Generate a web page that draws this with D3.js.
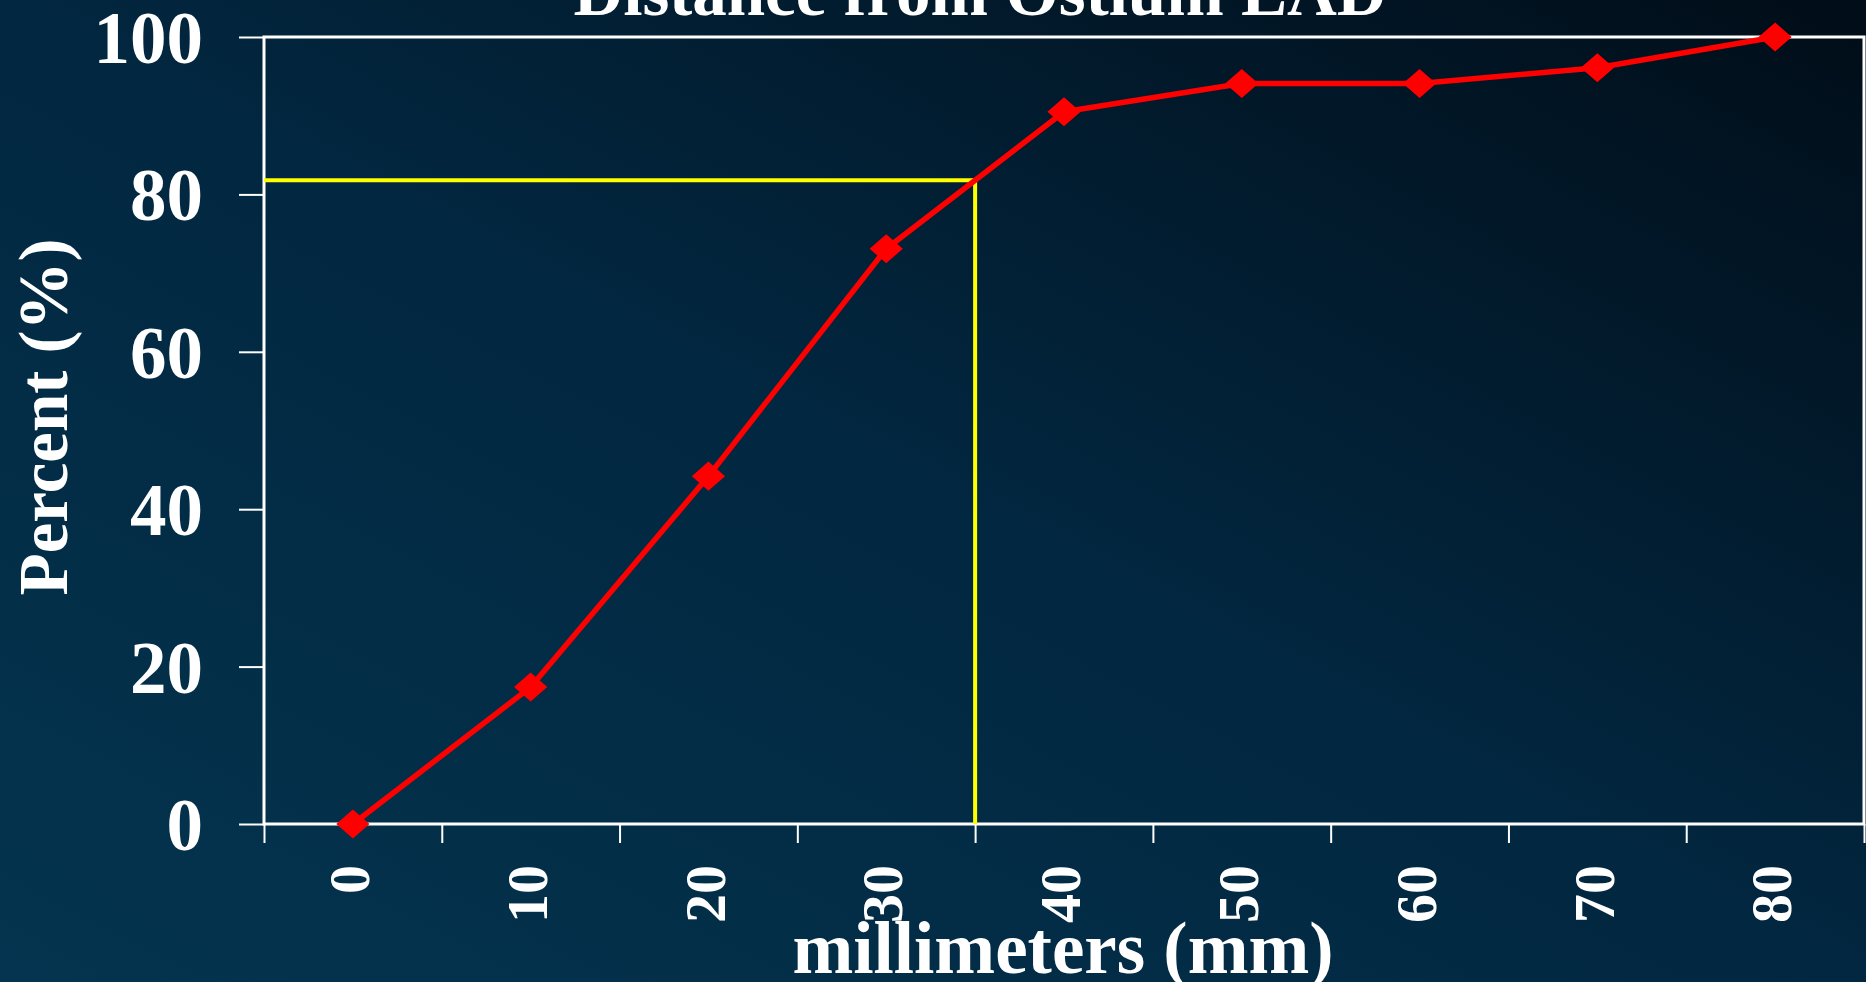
<!DOCTYPE html>
<html>
<head>
<meta charset="utf-8">
<script src="https://cdn.jsdelivr.net/npm/d3@7"></script>
<style>
  html, body { margin: 0; padding: 0; background: #021a2e; }
  svg { display: block; }
  text { font-family: "Liberation Serif", "Times New Roman", serif; font-weight: bold; fill: #ffffff; }
</style>
</head>
<body>
<svg id="chart" width="1866" height="982"></svg>
<script>
// Cumulative share of lesions by distance from the LAD ostium
const distances = [0, 10, 20, 30, 40, 50, 60, 70, 80];          // mm
const percents  = [0, 17.4, 44.2, 73.1, 90.5, 94.1, 94.1, 96.1, 100];
const yTicks    = [0, 20, 40, 60, 80, 100];
const refDistance = 35;    // mm, marked reference
const refPercent  = 81.8;  // % reached at the reference distance

const titleText = "Distance from Ostium LAD";
const xTitle = "millimeters (mm)";
const yTitle = "Percent (%)";

const W = 1866, H = 982;
const plot = { left: 264, right: 1864, top: 37, bottom: 824 };

const svg = d3.select("#chart");

// Diagonal background wash, lightest bottom-left, darkest top-right
const defs = svg.append("defs");
const grad = defs.append("linearGradient")
  .attr("id", "bg")
  .attr("x1", 0).attr("y1", 1).attr("x2", 1).attr("y2", 0);
grad.append("stop").attr("offset", 0).attr("stop-color", "#04344f");
grad.append("stop").attr("offset", 0.5).attr("stop-color", "#022740");
grad.append("stop").attr("offset", 1).attr("stop-color", "#010d18");
svg.append("rect").attr("width", W).attr("height", H).attr("fill", "url(#bg)");

// Scales: each distance sits in the middle of a 10 mm slot
const x = d3.scaleLinear().domain([-5, 85]).range([plot.left, plot.right]);
const y = d3.scaleLinear().domain([0, 100]).range([plot.bottom, plot.top]);

// Plot frame
svg.append("rect")
  .attr("x", plot.left).attr("y", plot.top)
  .attr("width", plot.right - plot.left).attr("height", plot.bottom - plot.top)
  .attr("fill", "none").attr("stroke", "#ffffff").attr("stroke-width", 3);

// Y axis
const yAxis = svg.append("g")
  .attr("transform", `translate(${plot.left},0)`)
  .call(d3.axisLeft(y).tickValues(yTicks).tickSize(25).tickPadding(36));
yAxis.select(".domain").remove();
yAxis.selectAll(".tick line").attr("stroke", "#ffffff").attr("stroke-width", 2);
yAxis.selectAll(".tick text")
  .attr("fill", "#ffffff")
  .style("font-size", "73px")
  .attr("dy", "0.35em");

// X axis: tick marks on slot boundaries, labels centred in slots
const boundaries = d3.range(-5, 86, 10);
const xAxis = svg.append("g")
  .attr("transform", `translate(0,${plot.bottom})`)
  .call(d3.axisBottom(x).tickValues(boundaries).tickSize(19).tickFormat(""));
xAxis.select(".domain").remove();
xAxis.selectAll(".tick line").attr("stroke", "#ffffff").attr("stroke-width", 2);

svg.append("g").selectAll("text")
  .data(distances)
  .join("text")
  .attr("transform", d => `translate(${x(d)},865) rotate(-90)`)
  .attr("text-anchor", "end")
  .attr("dy", "0.28em")
  .style("font-size", "58px")
  .text(d => d);

// Reference lines
svg.append("path")
  .attr("d", d3.line()([
    [x(-5), y(refPercent)],
    [x(refDistance), y(refPercent)],
    [x(refDistance), y(0)]
  ]))
  .attr("fill", "none")
  .attr("stroke", "#ffff00")
  .attr("stroke-width", 4);

// Data line
const pts = distances.map((d, i) => [x(d), y(percents[i])]);
svg.append("path")
  .attr("d", d3.line()(pts))
  .attr("fill", "none")
  .attr("stroke", "#ff0000")
  .attr("stroke-width", 5.5)
  .attr("stroke-linejoin", "round");

// Diamond markers (slightly wider than tall)
const rhombus = {
  draw(ctx, size) {
    const w = Math.sqrt(size) * 0.57, h = w * 0.875;
    ctx.moveTo(0, -h); ctx.lineTo(w, 0); ctx.lineTo(0, h); ctx.lineTo(-w, 0); ctx.closePath();
  }
};
svg.append("g").selectAll("path")
  .data(pts)
  .join("path")
  .attr("transform", d => `translate(${d[0]},${d[1]})`)
  .attr("d", d3.symbol().type(rhombus).size(850))
  .attr("fill", "#ff0000");

// Titles
svg.append("text")
  .attr("x", 980).attr("y", 15)
  .attr("text-anchor", "middle")
  .style("font-size", "69px")
  .text(titleText);

svg.append("text")
  .attr("x", 1063).attr("y", 973)
  .attr("text-anchor", "middle")
  .style("font-size", "73px")
  .text(xTitle);

svg.append("text")
  .attr("transform", "translate(67,417) rotate(-90)")
  .attr("text-anchor", "middle")
  .style("font-size", "69px")
  .text(yTitle);
</script>
</body>
</html>
